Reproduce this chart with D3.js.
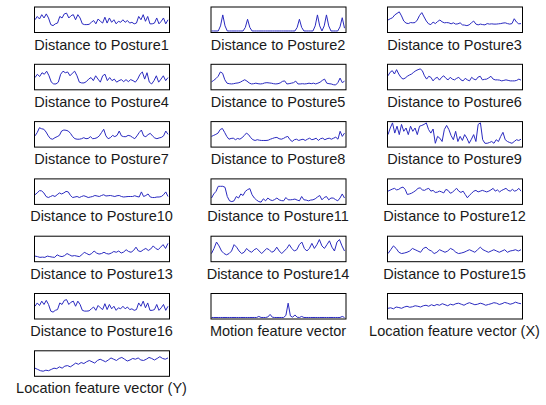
<!DOCTYPE html>
<html><head><meta charset="utf-8">
<script src="https://cdn.jsdelivr.net/npm/d3@7"></script>
<style>body{margin:0;background:#fff;} svg{display:block;}</style>
</head><body>
<svg id="chart" width="546" height="405"></svg>
<script>
const titles = ["Distance to Posture1","Distance to Posture2","Distance to Posture3","Distance to Posture4","Distance to Posture5","Distance to Posture6","Distance to Posture7","Distance to Posture8","Distance to Posture9","Distance to Posture10","Distance to Posture11","Distance to Posture12","Distance to Posture13","Distance to Posture14","Distance to Posture15","Distance to Posture16","Motion feature vector","Location feature vector (X)","Location feature vector (Y)"];

const posture1 = [4.8,6.1,5.1,6.8,5.5,7.1,5.5,2.9,2.5,3.2,3.5,6.1,5.5,7.1,7.4,5.5,6.4,6.8,4.8,6.8,5.5,3.2,2.9,2.9,3.0,3.8,4.5,3.2,5.1,4.2,3.5,5.8,3.5,5.5,3.8,4.8,3.2,4.2,3.8,4.8,3.8,4.5,3.5,3.8,3.2,3.5,6.1,4.8,6.8,4.2,6.1,3.2,3.2,3.5,5.5,3.2,4.2,5.5,3.2,4.8];
const posture2 = [0.4,0.4,0.4,0.4,2.4,6.7,2.4,0.4,0.4,0.4,0.4,0.4,0.4,0.4,0.4,1.8,5.0,1.8,0.4,0.4,0.4,0.4,0.4,0.4,0.4,0.4,0.4,0.4,0.4,0.4,0.4,0.4,0.4,0.4,0.4,0.4,0.4,0.4,1.8,5.0,1.8,0.4,0.4,0.4,0.4,0.4,2.4,6.7,2.4,0.4,2.4,6.7,2.4,0.4,0.4,0.4,0.4,2.0,5.6,1.5];
const posture3 = [4.7,5.2,5.6,6.7,7.3,7.9,6.3,4.3,3.5,3.3,3.7,3.6,3.7,4.7,6.5,7.6,5.9,4.3,3.2,2.9,3.9,3.3,4.1,4.7,4.0,3.6,3.7,3.6,3.2,3.6,3.1,3.2,3.6,2.8,2.7,2.5,2.8,3.6,4.3,3.1,2.8,3.1,2.9,2.8,3.3,3.1,3.2,3.1,3.1,3.2,3.3,3.5,3.6,3.3,3.1,3.3,5.2,3.9,3.2,3.3];
const posture4 = [4.6,5.9,5,6.5,5.9,7.1,5.3,2.8,2.1,2.1,2.8,5.9,7.1,6.5,6.8,5.3,6.3,7.1,5.3,2.8,2.5,2.5,3,4,4.6,3.4,5.3,4,2.8,5.3,5.9,3.4,4.6,3.4,4,2.8,3.4,3.8,3,3.8,3,3.8,3.4,2.8,4,5.9,6.8,4,6.5,2.8,2.1,3.4,5.3,2.8,4,5.3,3.4,4.6];
const posture5 = [2.9,3.5,4.2,5.1,6.8,6.3,3.75,2.4,2.2,2.1,2.2,2.4,2.5,2.8,3.3,3.75,3.2,2.5,2.1,2.2,2.4,2.2,2.1,2.2,2.5,2.6,2.5,2.4,2.2,2.1,2.2,2.5,3.1,3.3,2.1,2.2,2.4,2.6,3.2,2.1,2.1,2.2,2.1,2.2,2.4,2.2,2.4,2.1,2.4,2.8,3.5,4,2.4,2.2,2.1,1.8,1.7,2.6,4.4,2.6,3.2];
const posture6 = [5.3,6.7,7.3,6,7.7,6,4.7,4,4.4,5.1,5.6,6,6.7,7.3,7.7,8,7.3,5.3,4,5.1,4.7,3.3,4.3,4.7,3.6,4.7,5.3,4.3,3.7,4.7,4,3.7,4.3,4.7,3.7,3.3,4.3,3.7,3.3,4.7,4,3.7,4.8,5.1,3.7,3.9,4,4.5,5.1,4,3.7,3.7,3.6,3.3,3.5,3.7,3.5,3.3,3.3,3.3,3.5,4,3.6];
const posture7 = [4.2,5.5,7.4,7,6.8,5.7,4.2,3.1,2.9,3.5,3.9,4.4,6.1,6.5,6.4,6.1,5.2,3.9,3.1,2.9,2.9,3.1,3.5,3.1,3.2,3.9,3.1,3.2,3.5,4.2,5.5,6.8,4.2,3.1,3.5,4.4,3.9,4.4,6.1,4.2,3.9,3.9,4.4,4.2,3.6,3.1,4.2,5.5,6.5,4.2,3.9,4.7,5.2,4.2,3.4,3.1,3.4,3.6,4.2,6.1,4.8];
const posture8 = [4,4.4,4.8,5.3,6.7,7.1,5.6,4,2.9,3.2,3.3,2.7,3.2,2.9,3.5,4.3,5.3,4.7,3.5,2.7,2.4,2.7,2.5,2.4,2.4,2.4,2.5,2.9,3.2,3.5,3.6,3.1,2.9,3.2,3.7,4,2.7,2,2.7,2.9,2.4,2.7,2.9,2.4,2.9,3.3,2.7,2.9,3.3,2.4,3.1,3.3,2.7,3.1,3.3,2.9,3.3,3.7,2.9,6,4,5.3];
const posture9 = [4.7,7.3,9.3,5.3,8,4.7,8.7,6,7.3,4.7,8,6,7.3,4.7,8,8.3,8.7,9.3,6.7,5.3,6.9,1.3,4,3.3,2,6.7,8.3,6.7,4.3,2.7,6,2,4,2.4,4.7,3.3,1.3,2.9,4.7,2,8.7,9.3,2.7,1.3,1.3,1.6,2,1.3,2.7,2,4,5.6,2.7,2,1.6,1.3,2,2.7,2.4,2.9];
const posture10 = [3.6,4.3,5.2,5.1,4.3,2.9,2.5,2.9,3.3,2.9,3.6,4.3,3.9,4.3,4.9,4.7,3.3,2.5,2.7,2.9,2.5,2.9,3.2,2.9,2.5,2.7,2.9,3.3,3.1,2.9,3.3,3.6,3.1,3.2,3.3,3.1,2.9,3.2,3.3,2.9,2.7,2.8,2.9,2.9,2.9,3.2,2.9,2.7,4.7,2.9,3.3,3.9,2.7,2.5,2.5,2.7,2.7,2.9,3.6,4.7,2.9];
const posture11 = [2.3,3.9,4.9,6.9,6.9,6.9,6.5,2.9,1.2,0.9,1.2,2.9,2.3,3.9,3.3,4.9,5.6,6,3.6,2.3,1.5,0.9,0.7,2,1.2,2.3,1.6,1.3,1.7,2.3,1.6,1.3,1.2,2.5,1.6,1.6,1.7,1.9,1.5,1.2,2.9,1.6,1.5,1.2,1.5,1.6,2,2.7,3.3,1.6,2.5,2.9,1.6,2.3,2.3,1.7,1.2,2.3,3.9,2.3];
const posture12 = [5,5.4,5.8,6.1,5.5,5.7,6.3,6.6,5.7,3.7,3.9,4.2,4.7,5.3,6.1,6.3,5.5,5.3,5.8,6.1,5,5.3,4.5,4.6,5,4.7,4.3,5.7,5.3,4.2,4.5,5.4,6.1,5,4.5,5,3.7,2.4,3.4,4.2,5,5.3,4.7,5,5.3,5,4.7,5,5.5,6.1,5,5.5,4.7,5.3,5.7,6.1,5.3,5,5.7,5,5.3,6.1,5];
const posture13 = [2,1.8,1.5,1.6,1.5,2,1.8,1.6,1.5,2.5,2,1.8,2.2,3,2.5,2,2.2,2,1.8,2.5,3.5,3,2.5,3,4,3.2,2.8,3,3.5,3,2.8,3.2,3.8,3.5,4,3.2,3.6,4.5,3.8,3.5,4.2,5.5,4,3.8,4.5,5,4.2,4.8,6,5,4.5,5.5,6.5,5,7];
const posture14 = [3,5,7.5,6,4,3,2.5,3,4,6.5,5.5,4,3,3.5,5,4,3.5,4.5,5,4,3,4,5,4.5,3.5,4,5.5,4,3,4,5,6.5,5,4,4.5,6.5,7.5,5,4,5,7,5,6.5,8.5,6,5,6.5,8,5.5,4,7.5,8.5,6,4];
const posture15 = [3,4.5,6,5,3.5,3,3.2,3.5,4,5,4.5,4,3.5,5,5.5,4.5,4,3,3.5,4.5,4,3.5,4,5,4.5,3.5,3,3.2,3.5,4,4.5,4,3.5,4.5,5.5,4.5,4,3.5,4,4.5,4,3.5,4,4.5,3.5,4,4.2,4.5,4,4.5];
const posture16 = [4.8,6.1,5.1,6.8,5.5,7.1,5.5,2.9,2.5,3.2,3.5,6.1,5.5,7.1,7.4,5.5,6.4,6.8,4.8,6.8,5.5,3.2,2.9,2.9,3.0,3.8,4.5,3.2,5.1,4.2,3.5,5.8,3.5,5.5,3.8,4.8,3.2,4.2,3.8,4.8,3.8,4.5,3.5,3.8,3.2,3.5,6.1,4.8,6.8,4.2,6.1,3.2,3.2,3.5,5.5,3.2,4.2,5.5,3.2,4.8];
const motion = [0.4,0.4,0.4,0.4,0.4,0.4,0.4,0.4,0.4,0.4,0.4,0.4,0.4,0.4,0.4,0.4,0.4,0.4,0.4,0.4,0.4,0.8,0.4,0.4,0.4,0.6,1.6,0.5,0.4,0.4,0.4,0.4,0.4,1.2,6,1.0,0.5,1.4,0.5,0.4,0.8,0.4,0.4,0.4,0.4,0.4,0.4,0.4,0.4,0.4,0.4,0.4,0.4,0.4,0.4,0.4,0.4,0.4,0.8,0.4];
const locationX = [4,4.2,3.8,4.5,4.3,4,4.5,4.8,4.4,4.6,5,4.8,4.5,5,5.2,4.8,5.4,5,5.5,5.2,5.8,5.4,5,5.6,5.3,5.8,6,5.6,5.2,5.8,6.2,5.8,5.4,5.6,6,5.7,5.2,5.5,5.8,6.2,6,5.5,5.8,6.3,6,5.6,5.9,6.4,6,5.8];
const locationY = [3,2.5,2,1.8,2.2,2,2.5,3,2.8,3.5,3,3.8,4,3.5,4.2,5,4.5,5.2,4.8,5.5,6,5.5,5,6,6.5,6,5.5,6.2,7,6.5,6,6.8,7.2,6.5,5.8,6.2,6.8,6.5,7,6.2,6,6.5,7.2,6.8,6.2,6.8,7.5,6.8,6.5,7];

const seriesList = [posture1,posture2,posture3,posture4,posture5,posture6,posture7,posture8,posture9,posture10,posture11,posture12,posture13,posture14,posture15,posture16,motion,locationX,locationY];

const colLeft = [34, 210.5, 387];
const boxW = 135, boxH = 25.5;
const rowTop0 = 6.5, rowStep = 57.3;

const svg = d3.select("#chart");
seriesList.forEach((vals, k) => {
  const col = k % 3, row = Math.floor(k / 3);
  const x0 = colLeft[col], y0 = rowTop0 + row * rowStep;
  const g = svg.append("g").attr("transform", `translate(${x0},${y0})`);
  const x = d3.scaleLinear().domain([0, vals.length - 1]).range([1, boxW - 1]);
  const y = d3.scaleLinear().domain([0, 10]).range([boxH, 0]);
  g.append("path")
    .attr("d", d3.line().x((d, i) => x(i)).y(d => y(d))(vals))
    .attr("fill", "none").attr("stroke", "#2a2ac0").attr("stroke-width", 1);
  g.append("rect").attr("x", 0.5).attr("y", 0.5).attr("width", boxW).attr("height", boxH)
    .attr("fill", "none").attr("stroke", "#000").attr("stroke-width", 1);
  g.append("text").attr("x", boxW / 2).attr("y", boxH + 17.5)
    .attr("text-anchor", "middle")
    .style("font-family", "'Liberation Sans', Arial, sans-serif")
    .style("font-size", "14.5px").style("fill", "#1a1a1a")
    .text(titles[k]);
});
</script>
</body></html>
